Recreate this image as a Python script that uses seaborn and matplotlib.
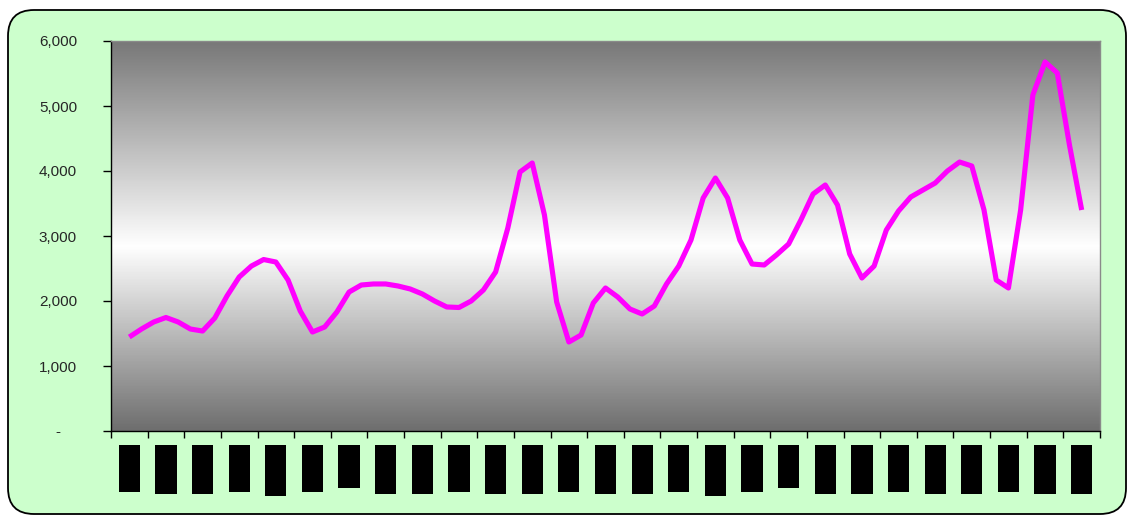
import numpy as np
import matplotlib
matplotlib.use("Agg")
import matplotlib.pyplot as plt
import matplotlib.transforms as mtransforms
from matplotlib.colors import LinearSegmentedColormap
from matplotlib.patches import FancyBboxPatch
import seaborn as sns

# ---- data -------------------------------------------------------------
x_labels = ["Jan-05", "Feb-05", "Mar-05", "Apr-05", "May-05", "Jun-05",
            "Jul-05", "Aug-05", "Sep-05", "Oct-05", "Nov-05", "Dec-05",
            "Jan-06", "Feb-06", "Mar-06", "Apr-06", "May-06", "Jun-06",
            "Jul-06", "Aug-06", "Sep-06", "Oct-06", "Nov-06", "Dec-06",
            "Jan-07", "Feb-07", "Mar-07"]

# readings taken every third of a month
values = [1446, 1569, 1677, 1746, 1677, 1569, 1538, 1738, 2077, 2369,
          2538, 2638, 2600, 2323, 1846, 1523, 1600, 1831, 2138, 2246,
          2262, 2262, 2231, 2185, 2108, 2000, 1908, 1900, 2000, 2169,
          2446, 3123, 3985, 4123, 3323, 1985, 1369, 1477, 1969, 2200,
          2062, 1877, 1800, 1923, 2262, 2538, 2938, 3585, 3892, 3585,
          2938, 2569, 2554, 2708, 2877, 3246, 3646, 3785, 3477, 2723,
          2354, 2538, 3092, 3385, 3600, 3708, 3815, 4000, 4138, 4077,
          3400, 2323, 2200, 3400, 5169, 5677, 5508, 4400, 3400]
points_per_month = 3

y_ticks = [0, 1000, 2000, 3000, 4000, 5000, 6000]
y_tick_labels = ["-", "1,000", "2,000", "3,000", "4,000", "5,000", "6,000"]

# ---- figure -----------------------------------------------------------
sns.set_style("white")
plt.rcParams["font.family"] = ["Liberation Sans", "DejaVu Sans"]

W, H = 1128, 516
fig = plt.figure(figsize=(W / 100, H / 100), dpi=100)
fig.patch.set_facecolor("white")

frame = FancyBboxPatch((8 / 100, 2 / 100), (1126 - 8) / 100, (514 - 10) / 100,
                       boxstyle="round,pad=0,rounding_size=0.26",
                       transform=fig.dpi_scale_trans, facecolor="#CCFFCC",
                       edgecolor="black", linewidth=1.3, zorder=-10)
fig.add_artist(frame)

ax = fig.add_axes([111 / W, (H - 431) / H, (1100 - 111) / W, (431 - 41) / H])
ax.set_facecolor("none")

# gradient background: gray at top and bottom, white band near middle
cmap = LinearSegmentedColormap.from_list(
    "g", [(0.0, "#6e6e6e"), (0.473, "#ffffff"), (1.0, "#787878")])
grad = np.linspace(0, 1, 400).reshape(-1, 1)
ax.imshow(grad, cmap=cmap, aspect="auto", origin="lower",
          extent=[0, 1, 0, 1], transform=ax.transAxes, zorder=0,
          interpolation="bilinear")

pos = np.arange(len(values)) / points_per_month
sns.lineplot(x=pos, y=values, color="#FF00FF", linewidth=3.7, ax=ax,
             zorder=3, solid_joinstyle="round", solid_capstyle="butt")

ax.set_xlim(-0.5, len(x_labels) - 0.5)
ax.set_ylim(0, 6000)

# y axis
ax.set_yticks(y_ticks)
ax.set_yticklabels(y_tick_labels, fontsize=11)
ax.tick_params(axis="y", which="major", direction="out", length=6,
               width=1, color="black", pad=18.5, left=True)
zero_lab = ax.get_yticklabels()[0]
zero_lab.set_transform(zero_lab.get_transform() +
                       mtransforms.ScaledTranslation(-17 / 100, 0,
                                                     fig.dpi_scale_trans))

# x axis: ticks at month boundaries, labels at month centres
ax.set_xticks(np.arange(len(x_labels) + 1) - 0.5)
ax.set_xticklabels([])
ax.set_xticks(np.arange(len(x_labels)), minor=True)
ax.set_xticklabels(x_labels, minor=True, rotation=90, fontsize=9,
                   color="black")
ax.tick_params(axis="x", which="major", direction="out", length=5,
               width=1, color="black", bottom=True)
ax.tick_params(axis="x", which="minor", length=0, pad=13.4)
for lab in ax.get_xticklabels(minor=True):
    lab.set_bbox(dict(facecolor="black", edgecolor="none", pad=3.3))

for side in ["left", "bottom"]:
    ax.spines[side].set_color("black")
    ax.spines[side].set_linewidth(1.0)
for side in ["top", "right"]:
    ax.spines[side].set_color("#8a8a8a")
    ax.spines[side].set_linewidth(1.0)
ax.set_xlabel("")
ax.set_ylabel("")

fig.savefig("out.png", dpi=100, facecolor=fig.get_facecolor())
